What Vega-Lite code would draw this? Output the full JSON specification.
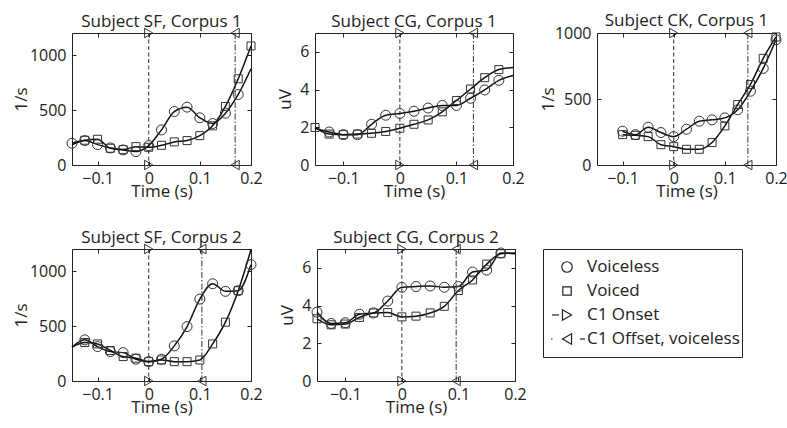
{
  "$schema": "https://vega.github.io/schema/vega-lite/v6.json",
  "padding": {"left": 11, "top": 11, "right": 2, "bottom": 2},
  "background": "white",
  "datasets": {
    "events": [
      {"p": "SF1", "e": "C1 Onset", "t": 0}, {"p": "SF1", "e": "C1 Offset, voiceless", "t": 0.169},
      {"p": "CG1", "e": "C1 Onset", "t": 0}, {"p": "CG1", "e": "C1 Offset, voiceless", "t": 0.13},
      {"p": "CK1", "e": "C1 Onset", "t": 0}, {"p": "CK1", "e": "C1 Offset, voiceless", "t": 0.145},
      {"p": "SF2", "e": "C1 Onset", "t": 0}, {"p": "SF2", "e": "C1 Offset, voiceless", "t": 0.104},
      {"p": "CG2", "e": "C1 Onset", "t": 0}, {"p": "CG2", "e": "C1 Offset, voiceless", "t": 0.096}
    ],
    "curves": [
      {"p": "SF1", "g": "Voiceless", "t": -0.15, "v": 198}, {"p": "SF1", "g": "Voiceless", "t": -0.125, "v": 222}, {"p": "SF1", "g": "Voiceless", "t": -0.1, "v": 185}, {"p": "SF1", "g": "Voiceless", "t": -0.075, "v": 155}, {"p": "SF1", "g": "Voiceless", "t": -0.05, "v": 137}, {"p": "SF1", "g": "Voiceless", "t": -0.025, "v": 122}, {"p": "SF1", "g": "Voiceless", "t": 0, "v": 176}, {"p": "SF1", "g": "Voiceless", "t": 0.025, "v": 319}, {"p": "SF1", "g": "Voiceless", "t": 0.05, "v": 486}, {"p": "SF1", "g": "Voiceless", "t": 0.075, "v": 526}, {"p": "SF1", "g": "Voiceless", "t": 0.1, "v": 429}, {"p": "SF1", "g": "Voiceless", "t": 0.125, "v": 377}, {"p": "SF1", "g": "Voiceless", "t": 0.15, "v": 471}, {"p": "SF1", "g": "Voiceless", "t": 0.175, "v": 641}, {"p": "SF1", "g": "Voiceless", "t": 0.2, "v": 875, "end": true},
      {"p": "SF1", "g": "Voiced", "t": -0.15, "v": 185, "end": true}, {"p": "SF1", "g": "Voiced", "t": -0.125, "v": 225}, {"p": "SF1", "g": "Voiced", "t": -0.1, "v": 234}, {"p": "SF1", "g": "Voiced", "t": -0.075, "v": 152}, {"p": "SF1", "g": "Voiced", "t": -0.05, "v": 140}, {"p": "SF1", "g": "Voiced", "t": -0.025, "v": 167}, {"p": "SF1", "g": "Voiced", "t": 0, "v": 161}, {"p": "SF1", "g": "Voiced", "t": 0.025, "v": 179}, {"p": "SF1", "g": "Voiced", "t": 0.05, "v": 210}, {"p": "SF1", "g": "Voiced", "t": 0.075, "v": 222}, {"p": "SF1", "g": "Voiced", "t": 0.1, "v": 267}, {"p": "SF1", "g": "Voiced", "t": 0.125, "v": 356}, {"p": "SF1", "g": "Voiced", "t": 0.15, "v": 532}, {"p": "SF1", "g": "Voiced", "t": 0.175, "v": 784}, {"p": "SF1", "g": "Voiced", "t": 0.2, "v": 1082},

      {"p": "CG1", "g": "Voiceless", "t": -0.15, "v": 1.95, "end": true}, {"p": "CG1", "g": "Voiceless", "t": -0.125, "v": 1.75}, {"p": "CG1", "g": "Voiceless", "t": -0.1, "v": 1.61}, {"p": "CG1", "g": "Voiceless", "t": -0.075, "v": 1.61}, {"p": "CG1", "g": "Voiceless", "t": -0.05, "v": 2.16}, {"p": "CG1", "g": "Voiceless", "t": -0.025, "v": 2.64}, {"p": "CG1", "g": "Voiceless", "t": 0, "v": 2.73}, {"p": "CG1", "g": "Voiceless", "t": 0.025, "v": 2.85}, {"p": "CG1", "g": "Voiceless", "t": 0.05, "v": 3.02}, {"p": "CG1", "g": "Voiceless", "t": 0.075, "v": 3.16}, {"p": "CG1", "g": "Voiceless", "t": 0.1, "v": 3.16}, {"p": "CG1", "g": "Voiceless", "t": 0.125, "v": 3.54}, {"p": "CG1", "g": "Voiceless", "t": 0.15, "v": 3.98}, {"p": "CG1", "g": "Voiceless", "t": 0.175, "v": 4.49}, {"p": "CG1", "g": "Voiceless", "t": 0.2, "v": 4.75, "end": true},
      {"p": "CG1", "g": "Voiced", "t": -0.15, "v": 1.99}, {"p": "CG1", "g": "Voiced", "t": -0.125, "v": 1.64}, {"p": "CG1", "g": "Voiced", "t": -0.1, "v": 1.61}, {"p": "CG1", "g": "Voiced", "t": -0.075, "v": 1.64}, {"p": "CG1", "g": "Voiced", "t": -0.05, "v": 1.68}, {"p": "CG1", "g": "Voiced", "t": -0.025, "v": 1.78}, {"p": "CG1", "g": "Voiced", "t": 0, "v": 1.95}, {"p": "CG1", "g": "Voiced", "t": 0.025, "v": 2.16}, {"p": "CG1", "g": "Voiced", "t": 0.05, "v": 2.39}, {"p": "CG1", "g": "Voiced", "t": 0.075, "v": 2.82}, {"p": "CG1", "g": "Voiced", "t": 0.1, "v": 3.42}, {"p": "CG1", "g": "Voiced", "t": 0.125, "v": 4.03}, {"p": "CG1", "g": "Voiced", "t": 0.15, "v": 4.63}, {"p": "CG1", "g": "Voiced", "t": 0.175, "v": 5.06}, {"p": "CG1", "g": "Voiced", "t": 0.2, "v": 5.17, "end": true},

      {"p": "CK1", "g": "Voiceless", "t": -0.1, "v": 256}, {"p": "CK1", "g": "Voiceless", "t": -0.075, "v": 230}, {"p": "CK1", "g": "Voiceless", "t": -0.05, "v": 286}, {"p": "CK1", "g": "Voiceless", "t": -0.025, "v": 246}, {"p": "CK1", "g": "Voiceless", "t": 0, "v": 215}, {"p": "CK1", "g": "Voiceless", "t": 0.025, "v": 271}, {"p": "CK1", "g": "Voiceless", "t": 0.05, "v": 332}, {"p": "CK1", "g": "Voiceless", "t": 0.075, "v": 342}, {"p": "CK1", "g": "Voiceless", "t": 0.1, "v": 357}, {"p": "CK1", "g": "Voiceless", "t": 0.125, "v": 418}, {"p": "CK1", "g": "Voiceless", "t": 0.15, "v": 559}, {"p": "CK1", "g": "Voiceless", "t": 0.175, "v": 732}, {"p": "CK1", "g": "Voiceless", "t": 0.2, "v": 949},
      {"p": "CK1", "g": "Voiced", "t": -0.1, "v": 230}, {"p": "CK1", "g": "Voiced", "t": -0.075, "v": 225}, {"p": "CK1", "g": "Voiced", "t": -0.05, "v": 215}, {"p": "CK1", "g": "Voiced", "t": -0.025, "v": 154}, {"p": "CK1", "g": "Voiced", "t": 0, "v": 139}, {"p": "CK1", "g": "Voiced", "t": 0.025, "v": 119}, {"p": "CK1", "g": "Voiced", "t": 0.05, "v": 119}, {"p": "CK1", "g": "Voiced", "t": 0.075, "v": 170}, {"p": "CK1", "g": "Voiced", "t": 0.1, "v": 296}, {"p": "CK1", "g": "Voiced", "t": 0.125, "v": 458}, {"p": "CK1", "g": "Voiced", "t": 0.15, "v": 610}, {"p": "CK1", "g": "Voiced", "t": 0.175, "v": 808}, {"p": "CK1", "g": "Voiced", "t": 0.2, "v": 970},

      {"p": "SF2", "g": "Voiceless", "t": -0.15, "v": 307, "end": true}, {"p": "SF2", "g": "Voiceless", "t": -0.125, "v": 374}, {"p": "SF2", "g": "Voiceless", "t": -0.1, "v": 313}, {"p": "SF2", "g": "Voiceless", "t": -0.075, "v": 267}, {"p": "SF2", "g": "Voiceless", "t": -0.05, "v": 258}, {"p": "SF2", "g": "Voiceless", "t": -0.025, "v": 198}, {"p": "SF2", "g": "Voiceless", "t": 0, "v": 176}, {"p": "SF2", "g": "Voiceless", "t": 0.025, "v": 198}, {"p": "SF2", "g": "Voiceless", "t": 0.05, "v": 319}, {"p": "SF2", "g": "Voiceless", "t": 0.075, "v": 495}, {"p": "SF2", "g": "Voiceless", "t": 0.1, "v": 745}, {"p": "SF2", "g": "Voiceless", "t": 0.125, "v": 884}, {"p": "SF2", "g": "Voiceless", "t": 0.15, "v": 815}, {"p": "SF2", "g": "Voiceless", "t": 0.175, "v": 821}, {"p": "SF2", "g": "Voiceless", "t": 0.2, "v": 1058},
      {"p": "SF2", "g": "Voiced", "t": -0.15, "v": 307, "end": true}, {"p": "SF2", "g": "Voiced", "t": -0.125, "v": 350}, {"p": "SF2", "g": "Voiced", "t": -0.1, "v": 337}, {"p": "SF2", "g": "Voiced", "t": -0.075, "v": 277}, {"p": "SF2", "g": "Voiced", "t": -0.05, "v": 222}, {"p": "SF2", "g": "Voiced", "t": -0.025, "v": 207}, {"p": "SF2", "g": "Voiced", "t": 0, "v": 176}, {"p": "SF2", "g": "Voiced", "t": 0.025, "v": 191}, {"p": "SF2", "g": "Voiced", "t": 0.05, "v": 176}, {"p": "SF2", "g": "Voiced", "t": 0.075, "v": 176}, {"p": "SF2", "g": "Voiced", "t": 0.1, "v": 191}, {"p": "SF2", "g": "Voiced", "t": 0.125, "v": 337}, {"p": "SF2", "g": "Voiced", "t": 0.15, "v": 535}, {"p": "SF2", "g": "Voiced", "t": 0.175, "v": 821}, {"p": "SF2", "g": "Voiced", "t": 0.2, "v": 1195, "end": true},

      {"p": "CG2", "g": "Voiceless", "t": -0.15, "v": 3.65}, {"p": "CG2", "g": "Voiceless", "t": -0.125, "v": 3.05}, {"p": "CG2", "g": "Voiceless", "t": -0.1, "v": 3.09}, {"p": "CG2", "g": "Voiceless", "t": -0.075, "v": 3.54}, {"p": "CG2", "g": "Voiceless", "t": -0.05, "v": 3.61}, {"p": "CG2", "g": "Voiceless", "t": -0.025, "v": 4.24}, {"p": "CG2", "g": "Voiceless", "t": 0, "v": 4.97}, {"p": "CG2", "g": "Voiceless", "t": 0.025, "v": 5.01}, {"p": "CG2", "g": "Voiceless", "t": 0.05, "v": 5.04}, {"p": "CG2", "g": "Voiceless", "t": 0.075, "v": 4.97}, {"p": "CG2", "g": "Voiceless", "t": 0.1, "v": 5.01}, {"p": "CG2", "g": "Voiceless", "t": 0.125, "v": 5.78}, {"p": "CG2", "g": "Voiceless", "t": 0.15, "v": 5.88}, {"p": "CG2", "g": "Voiceless", "t": 0.175, "v": 6.79}, {"p": "CG2", "g": "Voiceless", "t": 0.2, "v": 6.75, "end": true},
      {"p": "CG2", "g": "Voiced", "t": -0.15, "v": 3.30}, {"p": "CG2", "g": "Voiced", "t": -0.125, "v": 2.98}, {"p": "CG2", "g": "Voiced", "t": -0.1, "v": 3.02}, {"p": "CG2", "g": "Voiced", "t": -0.075, "v": 3.37}, {"p": "CG2", "g": "Voiced", "t": -0.05, "v": 3.61}, {"p": "CG2", "g": "Voiced", "t": -0.025, "v": 3.63}, {"p": "CG2", "g": "Voiced", "t": 0, "v": 3.40}, {"p": "CG2", "g": "Voiced", "t": 0.025, "v": 3.44}, {"p": "CG2", "g": "Voiced", "t": 0.05, "v": 3.61}, {"p": "CG2", "g": "Voiced", "t": 0.075, "v": 3.96}, {"p": "CG2", "g": "Voiced", "t": 0.1, "v": 4.80}, {"p": "CG2", "g": "Voiced", "t": 0.125, "v": 5.36}, {"p": "CG2", "g": "Voiced", "t": 0.15, "v": 6.20}, {"p": "CG2", "g": "Voiced", "t": 0.175, "v": 6.75}, {"p": "CG2", "g": "Voiced", "t": 0.2, "v": 6.79, "end": true}
    ],
    "legend": [
      {"item": "Voiceless"}, {"item": "Voiced"}, {"item": "C1 Onset"}, {"item": "C1 Offset, voiceless"}
    ]
  },
  "vconcat": [
    {
      "spacing": 13,
      "hconcat": [
        {
          "title": "Subject SF, Corpus 1", "width": 179, "height": 132,
          "resolve": {"axis": {"x": "independent", "y": "independent"}},
          "layer": [
            {"data": {"name": "events"}, "transform": [{"filter": "datum.p === 'SF1'"}], "mark": {"type": "rule", "color": "#333", "strokeWidth": 1},
             "encoding": {"x": {"field": "t", "type": "quantitative", "scale": {"domain": [-0.15, 0.2], "nice": false}, "axis": {"values": [-0.1, 0, 0.1, 0.2], "format": "~g", "title": "Time (s)"}},
                          "strokeDash": {"field": "e", "type": "nominal", "scale": {"domain": ["C1 Onset", "C1 Offset, voiceless"], "range": [[4, 2.5], [6, 2, 1.5, 2]]}, "legend": null}}},
            {"data": {"name": "curves"}, "transform": [{"filter": "datum.p === 'SF1'"}], "mark": {"type": "line", "interpolate": "monotone", "color": "#111", "strokeWidth": 1.5},
             "encoding": {"x": {"field": "t", "type": "quantitative", "scale": {"domain": [-0.15, 0.2], "nice": false}, "axis": null},
                          "y": {"field": "v", "type": "quantitative", "scale": {"domain": [0, 1200], "nice": false}, "axis": {"values": [0, 500, 1000], "format": "d", "title": "1/s"}},
                          "detail": {"field": "g"}}},
            {"data": {"name": "curves"}, "transform": [{"filter": "datum.p === 'SF1' && !datum.end"}], "mark": {"type": "point", "filled": false, "color": "#333", "strokeWidth": 1, "opacity": 1},
             "encoding": {"x": {"field": "t", "type": "quantitative", "scale": {"domain": [-0.15, 0.2], "nice": false}, "axis": {"orient": "top", "values": [-0.1, 0, 0.1, 0.2], "labels": false, "title": null}},
                          "y": {"field": "v", "type": "quantitative", "scale": {"domain": [0, 1200], "nice": false}, "axis": {"orient": "right", "values": [0, 500, 1000], "labels": false, "title": null}},
                          "shape": {"field": "g", "type": "nominal", "scale": {"domain": ["Voiceless", "Voiced", "C1 Onset", "C1 Offset, voiceless"], "range": ["circle", "square", "triangle-right", "triangle-left"]}, "legend": null},
                          "size": {"condition": {"test": "datum.g === 'Voiceless'", "value": 100}, "value": 64}}},
            {"data": {"name": "events"}, "transform": [{"filter": "datum.p === 'SF1'"}], "mark": {"type": "point", "filled": false, "color": "#333", "strokeWidth": 1, "opacity": 1, "size": 90},
             "encoding": {"x": {"field": "t", "type": "quantitative", "scale": {"domain": [-0.15, 0.2], "nice": false}, "axis": null},
                          "y": {"datum": 1200, "type": "quantitative", "scale": {"domain": [0, 1200], "nice": false}, "axis": null},
                          "shape": {"field": "e", "type": "nominal", "scale": {"domain": ["Voiceless", "Voiced", "C1 Onset", "C1 Offset, voiceless"], "range": ["circle", "square", "triangle-right", "triangle-left"]}, "legend": null}}},
            {"data": {"name": "events"}, "transform": [{"filter": "datum.p === 'SF1'"}], "mark": {"type": "point", "filled": false, "color": "#333", "strokeWidth": 1, "opacity": 1, "size": 90},
             "encoding": {"x": {"field": "t", "type": "quantitative", "scale": {"domain": [-0.15, 0.2], "nice": false}, "axis": null},
                          "y": {"datum": 0, "type": "quantitative", "scale": {"domain": [0, 1200], "nice": false}, "axis": null},
                          "shape": {"field": "e", "type": "nominal", "scale": {"domain": ["Voiceless", "Voiced", "C1 Onset", "C1 Offset, voiceless"], "range": ["circle", "square", "triangle-right", "triangle-left"]}, "legend": null}}}
          ]
        },
        {
          "title": "Subject CG, Corpus 1", "width": 198, "height": 132,
          "resolve": {"axis": {"x": "independent", "y": "independent"}},
          "layer": [
            {"data": {"name": "events"}, "transform": [{"filter": "datum.p === 'CG1'"}], "mark": {"type": "rule", "color": "#333", "strokeWidth": 1},
             "encoding": {"x": {"field": "t", "type": "quantitative", "scale": {"domain": [-0.15, 0.2], "nice": false}, "axis": {"values": [-0.1, 0, 0.1, 0.2], "format": "~g", "title": "Time (s)"}},
                          "strokeDash": {"field": "e", "type": "nominal", "scale": {"domain": ["C1 Onset", "C1 Offset, voiceless"], "range": [[4, 2.5], [6, 2, 1.5, 2]]}, "legend": null}}},
            {"data": {"name": "curves"}, "transform": [{"filter": "datum.p === 'CG1'"}], "mark": {"type": "line", "interpolate": "monotone", "color": "#111", "strokeWidth": 1.5},
             "encoding": {"x": {"field": "t", "type": "quantitative", "scale": {"domain": [-0.15, 0.2], "nice": false}, "axis": null},
                          "y": {"field": "v", "type": "quantitative", "scale": {"domain": [0, 7], "nice": false}, "axis": {"values": [0, 2, 4, 6], "format": "d", "title": "uV", "titlePadding": 5}},
                          "detail": {"field": "g"}}},
            {"data": {"name": "curves"}, "transform": [{"filter": "datum.p === 'CG1' && !datum.end"}], "mark": {"type": "point", "filled": false, "color": "#333", "strokeWidth": 1, "opacity": 1},
             "encoding": {"x": {"field": "t", "type": "quantitative", "scale": {"domain": [-0.15, 0.2], "nice": false}, "axis": {"orient": "top", "values": [-0.1, 0, 0.1, 0.2], "labels": false, "title": null}},
                          "y": {"field": "v", "type": "quantitative", "scale": {"domain": [0, 7], "nice": false}, "axis": {"orient": "right", "values": [0, 2, 4, 6], "labels": false, "title": null}},
                          "shape": {"field": "g", "type": "nominal", "scale": {"domain": ["Voiceless", "Voiced", "C1 Onset", "C1 Offset, voiceless"], "range": ["circle", "square", "triangle-right", "triangle-left"]}, "legend": null},
                          "size": {"condition": {"test": "datum.g === 'Voiceless'", "value": 100}, "value": 64}}},
            {"data": {"name": "events"}, "transform": [{"filter": "datum.p === 'CG1'"}], "mark": {"type": "point", "filled": false, "color": "#333", "strokeWidth": 1, "opacity": 1, "size": 90},
             "encoding": {"x": {"field": "t", "type": "quantitative", "scale": {"domain": [-0.15, 0.2], "nice": false}, "axis": null},
                          "y": {"datum": 7, "type": "quantitative", "scale": {"domain": [0, 7], "nice": false}, "axis": null},
                          "shape": {"field": "e", "type": "nominal", "scale": {"domain": ["Voiceless", "Voiced", "C1 Onset", "C1 Offset, voiceless"], "range": ["circle", "square", "triangle-right", "triangle-left"]}, "legend": null}}},
            {"data": {"name": "events"}, "transform": [{"filter": "datum.p === 'CG1'"}], "mark": {"type": "point", "filled": false, "color": "#333", "strokeWidth": 1, "opacity": 1, "size": 90},
             "encoding": {"x": {"field": "t", "type": "quantitative", "scale": {"domain": [-0.15, 0.2], "nice": false}, "axis": null},
                          "y": {"datum": 0, "type": "quantitative", "scale": {"domain": [0, 7], "nice": false}, "axis": null},
                          "shape": {"field": "e", "type": "nominal", "scale": {"domain": ["Voiceless", "Voiced", "C1 Onset", "C1 Offset, voiceless"], "range": ["circle", "square", "triangle-right", "triangle-left"]}, "legend": null}}}
          ]
        },
        {
          "title": "Subject CK, Corpus 1", "width": 179, "height": 132,
          "resolve": {"axis": {"x": "independent", "y": "independent"}},
          "layer": [
            {"data": {"name": "events"}, "transform": [{"filter": "datum.p === 'CK1'"}], "mark": {"type": "rule", "color": "#333", "strokeWidth": 1},
             "encoding": {"x": {"field": "t", "type": "quantitative", "scale": {"domain": [-0.15, 0.2], "nice": false}, "axis": {"values": [-0.1, 0, 0.1, 0.2], "format": "~g", "title": "Time (s)"}},
                          "strokeDash": {"field": "e", "type": "nominal", "scale": {"domain": ["C1 Onset", "C1 Offset, voiceless"], "range": [[4, 2.5], [6, 2, 1.5, 2]]}, "legend": null}}},
            {"data": {"name": "curves"}, "transform": [{"filter": "datum.p === 'CK1'"}], "mark": {"type": "line", "interpolate": "monotone", "color": "#111", "strokeWidth": 1.5},
             "encoding": {"x": {"field": "t", "type": "quantitative", "scale": {"domain": [-0.15, 0.2], "nice": false}, "axis": null},
                          "y": {"field": "v", "type": "quantitative", "scale": {"domain": [0, 1000], "nice": false}, "axis": {"values": [0, 500, 1000], "format": "d", "title": "1/s", "titlePadding": -3}},
                          "detail": {"field": "g"}}},
            {"data": {"name": "curves"}, "transform": [{"filter": "datum.p === 'CK1' && !datum.end"}], "mark": {"type": "point", "filled": false, "color": "#333", "strokeWidth": 1, "opacity": 1},
             "encoding": {"x": {"field": "t", "type": "quantitative", "scale": {"domain": [-0.15, 0.2], "nice": false}, "axis": {"orient": "top", "values": [-0.1, 0, 0.1, 0.2], "labels": false, "title": null}},
                          "y": {"field": "v", "type": "quantitative", "scale": {"domain": [0, 1000], "nice": false}, "axis": {"orient": "right", "values": [0, 500, 1000], "labels": false, "title": null}},
                          "shape": {"field": "g", "type": "nominal", "scale": {"domain": ["Voiceless", "Voiced", "C1 Onset", "C1 Offset, voiceless"], "range": ["circle", "square", "triangle-right", "triangle-left"]}, "legend": null},
                          "size": {"condition": {"test": "datum.g === 'Voiceless'", "value": 100}, "value": 64}}},
            {"data": {"name": "events"}, "transform": [{"filter": "datum.p === 'CK1'"}], "mark": {"type": "point", "filled": false, "color": "#333", "strokeWidth": 1, "opacity": 1, "size": 90},
             "encoding": {"x": {"field": "t", "type": "quantitative", "scale": {"domain": [-0.15, 0.2], "nice": false}, "axis": null},
                          "y": {"datum": 1000, "type": "quantitative", "scale": {"domain": [0, 1000], "nice": false}, "axis": null},
                          "shape": {"field": "e", "type": "nominal", "scale": {"domain": ["Voiceless", "Voiced", "C1 Onset", "C1 Offset, voiceless"], "range": ["circle", "square", "triangle-right", "triangle-left"]}, "legend": null}}},
            {"data": {"name": "events"}, "transform": [{"filter": "datum.p === 'CK1'"}], "mark": {"type": "point", "filled": false, "color": "#333", "strokeWidth": 1, "opacity": 1, "size": 90},
             "encoding": {"x": {"field": "t", "type": "quantitative", "scale": {"domain": [-0.15, 0.2], "nice": false}, "axis": null},
                          "y": {"datum": 0, "type": "quantitative", "scale": {"domain": [0, 1000], "nice": false}, "axis": null},
                          "shape": {"field": "e", "type": "nominal", "scale": {"domain": ["Voiceless", "Voiced", "C1 Onset", "C1 Offset, voiceless"], "range": ["circle", "square", "triangle-right", "triangle-left"]}, "legend": null}}}
          ]
        }
      ]
    },
    {
      "spacing": 15,
      "hconcat": [
        {
          "title": "Subject SF, Corpus 2", "width": 179, "height": 132,
          "resolve": {"axis": {"x": "independent", "y": "independent"}},
          "layer": [
            {"data": {"name": "events"}, "transform": [{"filter": "datum.p === 'SF2'"}], "mark": {"type": "rule", "color": "#333", "strokeWidth": 1},
             "encoding": {"x": {"field": "t", "type": "quantitative", "scale": {"domain": [-0.15, 0.2], "nice": false}, "axis": {"values": [-0.1, 0, 0.1, 0.2], "format": "~g", "title": "Time (s)"}},
                          "strokeDash": {"field": "e", "type": "nominal", "scale": {"domain": ["C1 Onset", "C1 Offset, voiceless"], "range": [[4, 2.5], [6, 2, 1.5, 2]]}, "legend": null}}},
            {"data": {"name": "curves"}, "transform": [{"filter": "datum.p === 'SF2'"}], "mark": {"type": "line", "interpolate": "monotone", "color": "#111", "strokeWidth": 1.5},
             "encoding": {"x": {"field": "t", "type": "quantitative", "scale": {"domain": [-0.15, 0.2], "nice": false}, "axis": null},
                          "y": {"field": "v", "type": "quantitative", "scale": {"domain": [0, 1200], "nice": false}, "axis": {"values": [0, 500, 1000], "format": "d", "title": "1/s"}},
                          "detail": {"field": "g"}}},
            {"data": {"name": "curves"}, "transform": [{"filter": "datum.p === 'SF2' && !datum.end"}], "mark": {"type": "point", "filled": false, "color": "#333", "strokeWidth": 1, "opacity": 1},
             "encoding": {"x": {"field": "t", "type": "quantitative", "scale": {"domain": [-0.15, 0.2], "nice": false}, "axis": {"orient": "top", "values": [-0.1, 0, 0.1, 0.2], "labels": false, "title": null}},
                          "y": {"field": "v", "type": "quantitative", "scale": {"domain": [0, 1200], "nice": false}, "axis": {"orient": "right", "values": [0, 500, 1000], "labels": false, "title": null}},
                          "shape": {"field": "g", "type": "nominal", "scale": {"domain": ["Voiceless", "Voiced", "C1 Onset", "C1 Offset, voiceless"], "range": ["circle", "square", "triangle-right", "triangle-left"]}, "legend": null},
                          "size": {"condition": {"test": "datum.g === 'Voiceless'", "value": 100}, "value": 64}}},
            {"data": {"name": "events"}, "transform": [{"filter": "datum.p === 'SF2'"}], "mark": {"type": "point", "filled": false, "color": "#333", "strokeWidth": 1, "opacity": 1, "size": 90},
             "encoding": {"x": {"field": "t", "type": "quantitative", "scale": {"domain": [-0.15, 0.2], "nice": false}, "axis": null},
                          "y": {"datum": 1200, "type": "quantitative", "scale": {"domain": [0, 1200], "nice": false}, "axis": null},
                          "shape": {"field": "e", "type": "nominal", "scale": {"domain": ["Voiceless", "Voiced", "C1 Onset", "C1 Offset, voiceless"], "range": ["circle", "square", "triangle-right", "triangle-left"]}, "legend": null}}},
            {"data": {"name": "events"}, "transform": [{"filter": "datum.p === 'SF2'"}], "mark": {"type": "point", "filled": false, "color": "#333", "strokeWidth": 1, "opacity": 1, "size": 90},
             "encoding": {"x": {"field": "t", "type": "quantitative", "scale": {"domain": [-0.15, 0.2], "nice": false}, "axis": null},
                          "y": {"datum": 0, "type": "quantitative", "scale": {"domain": [0, 1200], "nice": false}, "axis": null},
                          "shape": {"field": "e", "type": "nominal", "scale": {"domain": ["Voiceless", "Voiced", "C1 Onset", "C1 Offset, voiceless"], "range": ["circle", "square", "triangle-right", "triangle-left"]}, "legend": null}}}
          ]
        },
        {
          "title": "Subject CG, Corpus 2", "width": 198, "height": 132,
          "resolve": {"axis": {"x": "independent", "y": "independent"}},
          "layer": [
            {"data": {"name": "events"}, "transform": [{"filter": "datum.p === 'CG2'"}], "mark": {"type": "rule", "color": "#333", "strokeWidth": 1},
             "encoding": {"x": {"field": "t", "type": "quantitative", "scale": {"domain": [-0.15, 0.2], "nice": false}, "axis": {"values": [-0.1, 0, 0.1, 0.2], "format": "~g", "title": "Time (s)"}},
                          "strokeDash": {"field": "e", "type": "nominal", "scale": {"domain": ["C1 Onset", "C1 Offset, voiceless"], "range": [[4, 2.5], [6, 2, 1.5, 2]]}, "legend": null}}},
            {"data": {"name": "curves"}, "transform": [{"filter": "datum.p === 'CG2'"}], "mark": {"type": "line", "interpolate": "monotone", "color": "#111", "strokeWidth": 1.5},
             "encoding": {"x": {"field": "t", "type": "quantitative", "scale": {"domain": [-0.15, 0.2], "nice": false}, "axis": null},
                          "y": {"field": "v", "type": "quantitative", "scale": {"domain": [0, 7], "nice": false}, "axis": {"values": [0, 2, 4, 6], "format": "d", "title": "uV", "titlePadding": 5}},
                          "detail": {"field": "g"}}},
            {"data": {"name": "curves"}, "transform": [{"filter": "datum.p === 'CG2' && !datum.end"}], "mark": {"type": "point", "filled": false, "color": "#333", "strokeWidth": 1, "opacity": 1},
             "encoding": {"x": {"field": "t", "type": "quantitative", "scale": {"domain": [-0.15, 0.2], "nice": false}, "axis": {"orient": "top", "values": [-0.1, 0, 0.1, 0.2], "labels": false, "title": null}},
                          "y": {"field": "v", "type": "quantitative", "scale": {"domain": [0, 7], "nice": false}, "axis": {"orient": "right", "values": [0, 2, 4, 6], "labels": false, "title": null}},
                          "shape": {"field": "g", "type": "nominal", "scale": {"domain": ["Voiceless", "Voiced", "C1 Onset", "C1 Offset, voiceless"], "range": ["circle", "square", "triangle-right", "triangle-left"]}, "legend": null},
                          "size": {"condition": {"test": "datum.g === 'Voiceless'", "value": 100}, "value": 64}}},
            {"data": {"name": "events"}, "transform": [{"filter": "datum.p === 'CG2'"}], "mark": {"type": "point", "filled": false, "color": "#333", "strokeWidth": 1, "opacity": 1, "size": 90},
             "encoding": {"x": {"field": "t", "type": "quantitative", "scale": {"domain": [-0.15, 0.2], "nice": false}, "axis": null},
                          "y": {"datum": 7, "type": "quantitative", "scale": {"domain": [0, 7], "nice": false}, "axis": null},
                          "shape": {"field": "e", "type": "nominal", "scale": {"domain": ["Voiceless", "Voiced", "C1 Onset", "C1 Offset, voiceless"], "range": ["circle", "square", "triangle-right", "triangle-left"]}, "legend": null}}},
            {"data": {"name": "events"}, "transform": [{"filter": "datum.p === 'CG2'"}], "mark": {"type": "point", "filled": false, "color": "#333", "strokeWidth": 1, "opacity": 1, "size": 90},
             "encoding": {"x": {"field": "t", "type": "quantitative", "scale": {"domain": [-0.15, 0.2], "nice": false}, "axis": null},
                          "y": {"datum": 0, "type": "quantitative", "scale": {"domain": [0, 7], "nice": false}, "axis": null},
                          "shape": {"field": "e", "type": "nominal", "scale": {"domain": ["Voiceless", "Voiced", "C1 Onset", "C1 Offset, voiceless"], "range": ["circle", "square", "triangle-right", "triangle-left"]}, "legend": null}}}
          ]
        },
        {
          "title": " ", "width": 199, "height": 108,
          "data": {"name": "legend"},
          "layer": [
            {"transform": [{"filter": "datum.item === 'C1 Onset'"}], "mark": {"type": "rule", "color": "#222", "strokeWidth": 1.2},
             "encoding": {"x": {"datum": 9, "type": "quantitative", "scale": {"domain": [0, 199], "nice": false}, "axis": null}, "x2": {"datum": 16},
                          "y": {"field": "item", "type": "nominal", "scale": {"type": "point", "padding": 0.75, "domain": ["Voiceless", "Voiced", "C1 Onset", "C1 Offset, voiceless"]}, "axis": null}}},
            {"transform": [{"filter": "datum.item === 'C1 Offset, voiceless'"}], "mark": {"type": "rule", "color": "#222", "strokeWidth": 1.2},
             "encoding": {"x": {"datum": 8, "type": "quantitative", "scale": {"domain": [0, 199], "nice": false}, "axis": null}, "x2": {"datum": 9.5},
                          "y": {"field": "item", "type": "nominal", "scale": {"type": "point", "padding": 0.75, "domain": ["Voiceless", "Voiced", "C1 Onset", "C1 Offset, voiceless"]}, "axis": null}}},
            {"transform": [{"filter": "datum.item === 'C1 Offset, voiceless'"}], "mark": {"type": "rule", "color": "#222", "strokeWidth": 1.2},
             "encoding": {"x": {"datum": 37, "type": "quantitative", "scale": {"domain": [0, 199], "nice": false}, "axis": null}, "x2": {"datum": 42},
                          "y": {"field": "item", "type": "nominal", "scale": {"type": "point", "padding": 0.75, "domain": ["Voiceless", "Voiced", "C1 Onset", "C1 Offset, voiceless"]}, "axis": null}}},
            {"mark": {"type": "point", "filled": false, "color": "#222", "strokeWidth": 1.2, "opacity": 1},
             "encoding": {"x": {"datum": 24, "type": "quantitative", "scale": {"domain": [0, 199], "nice": false}, "axis": null},
                          "y": {"field": "item", "type": "nominal", "scale": {"type": "point", "padding": 0.75, "domain": ["Voiceless", "Voiced", "C1 Onset", "C1 Offset, voiceless"]}, "axis": null},
                          "shape": {"field": "item", "type": "nominal", "scale": {"domain": ["Voiceless", "Voiced", "C1 Onset", "C1 Offset, voiceless"], "range": ["circle", "square", "triangle-right", "triangle-left"]}, "legend": null},
                          "size": {"condition": {"test": "datum.item === 'Voiced'", "value": 70}, "value": 110}}},
            {"mark": {"type": "text", "align": "left", "baseline": "middle", "fontSize": 17, "color": "#222"},
             "encoding": {"x": {"datum": 44, "type": "quantitative", "scale": {"domain": [0, 199], "nice": false}, "axis": null},
                          "y": {"field": "item", "type": "nominal", "scale": {"type": "point", "padding": 0.75, "domain": ["Voiceless", "Voiced", "C1 Onset", "C1 Offset, voiceless"]}, "axis": null},
                          "text": {"field": "item"}}}
          ]
        }
      ]
    }
  ],
  "spacing": 28,
  "config": {
    "font": "Open Sans",
    "view": {"stroke": "#222", "strokeWidth": 1},
    "axis": {"grid": false, "domain": false, "ticks": true, "tickSize": -4, "tickColor": "#222", "labelFontSize": 16, "labelColor": "#222", "titleFontSize": 17, "titleFontWeight": "normal", "titleColor": "#222"},
    "axisX": {"labelPadding": 9, "labelFlush": false, "titlePadding": -3},
    "axisY": {"labelPadding": 10, "titlePadding": -1},
    "title": {"fontSize": 17, "fontWeight": "normal", "color": "#222", "offset": -4.5, "frame": "group"},
    "text": {"font": "Open Sans"}
  }
}
